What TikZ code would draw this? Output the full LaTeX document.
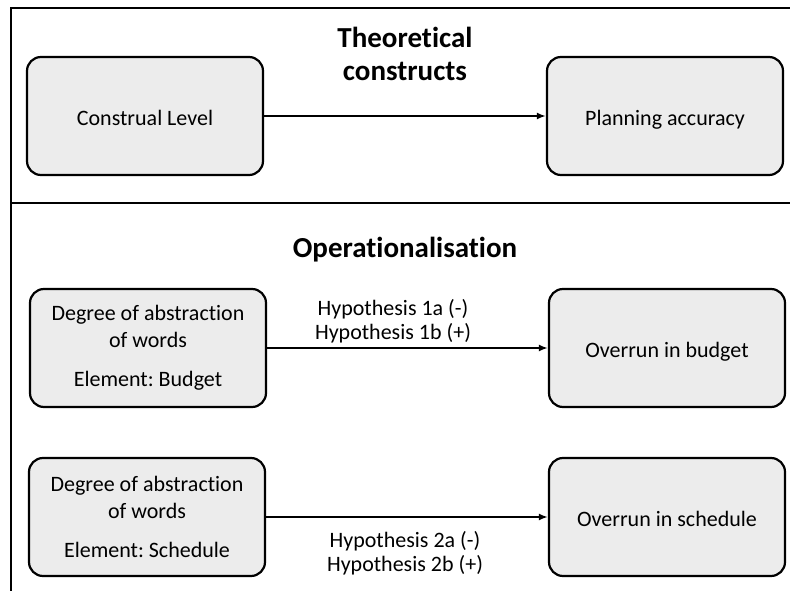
\documentclass[tikz,border=0pt]{standalone}
\usepackage{fontspec}
\setmainfont[Ligatures=NoCommon]{Carlito}
\usetikzlibrary{arrows.meta,positioning}
\frenchspacing

\tikzset{
  stage/.style={draw, line width=2.2pt, rounded corners=14pt, fill=gray!15,
    minimum width=236pt, minimum height=118pt, align=center, font=\fontsize{22}{27}\selectfont},
  oneline/.style={text height=20pt, text depth=1pt},
  heading/.style={align=center, font=\fontsize{29}{33}\selectfont\bfseries},
  hyp/.style={align=center, font=\fontsize{22}{24}\selectfont},
  link/.style={line width=1.8pt, -{Latex[length=9pt,width=7pt]}},
  frame/.style={line width=2.6pt}
}

\begin{document}
\begin{tikzpicture}[x=1pt,y=1pt]
  \useasboundingbox (0,0) rectangle (790,-591);
  % frame
  \draw[frame] (11,-591) -- (11,-8) -- (790,-8);
  \draw[frame] (11,-203) -- (790,-203);

  % theoretical constructs
  \node[heading] (theo) at (405,-54) {Theoretical\\constructs};
  \node[stage,oneline] (construal) at (145,-116) {Construal Level};
  \node[stage,oneline] (accuracy) at (665,-116) {Planning accuracy};
  \draw[link] (construal) -- (accuracy);

  % operationalisation
  \node[heading] (oper) at (405,-250) {Operationalisation};
  \node[stage] (absbudget) at (148,-348) {Degree of abstraction\\of words\\[12pt]Element: Budget};
  \node[stage,oneline] (budget) at (667,-348) {Overrun in budget};
  \draw[link] (absbudget) -- (budget);
  \node[hyp] (hypone) at (393,-321) {Hypothesis 1a (-)\\Hypothesis 1b (+)};

  \node[stage] (absschedule) at (147,-517) {Degree of abstraction\\of words\\[12pt]Element: Schedule};
  \node[stage,oneline] (schedule) at (667,-517) {Overrun in schedule};
  \draw[link] (absschedule) -- (schedule);
  \node[hyp] (hyptwo) at (405,-553) {Hypothesis 2a (-)\\Hypothesis 2b (+)};
\end{tikzpicture}
\end{document}
